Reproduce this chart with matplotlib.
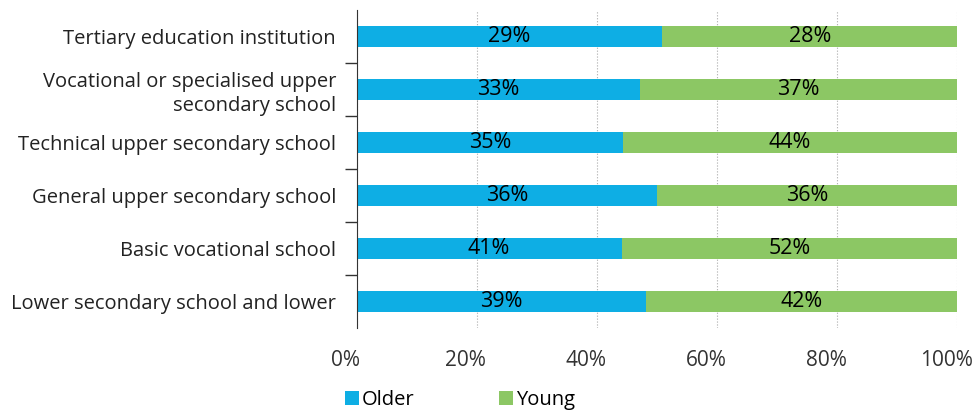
import matplotlib.pyplot as plt
import matplotlib.transforms as mtransforms
import numpy as np

plt.rcParams['font.family'] = ['Open Sans', 'DejaVu Sans']

categories = ["Tertiary education institution",
              "Vocational or specialised upper\nsecondary school",
              "Technical upper secondary school",
              "General upper secondary school",
              "Basic vocational school",
              "Lower secondary school and lower"]
older = [29, 33, 35, 36, 41, 39]
young = [28, 37, 44, 36, 52, 42]
xticks = [0, 20, 40, 60, 80, 100]

older = np.array(older, dtype=float)
young = np.array(young, dtype=float)
total = older + young
older_pct = older / total * 100
young_pct = young / total * 100

blue = "#0eaee4"
green = "#8cc764"

fig = plt.figure(figsize=(9.72, 4.12), dpi=100)
ax = fig.add_axes([0.367, 0.204, 0.618, 0.772])

y = np.arange(len(categories))
ax.barh(y, older_pct, height=0.4, color=blue, label="Older", zorder=2)
ax.barh(y, young_pct, left=older_pct, height=0.4, color=green, label="Young", zorder=2)

for i in range(len(categories)):
    ax.text(older_pct[i] / 2, y[i], f"{int(older[i])}%", ha="center", va="center",
            fontsize=15.5, color="black", zorder=3)
    ax.text(older_pct[i] + young_pct[i] / 2, y[i], f"{int(young[i])}%", ha="center",
            va="center", fontsize=15.5, color="black", zorder=3)

ax.set_ylim(len(categories) - 0.5, -0.5)
ax.set_xlim(0, 100)
ax.set_yticks(y)
ax.set_yticklabels(categories, fontsize=14.5, color="#222222", linespacing=1.25)
ax.set_yticks(np.arange(0.5, len(categories) - 1, 1), minor=True)
ax.tick_params(axis="y", which="major", length=0, pad=15)
ax.tick_params(axis="y", which="minor", length=9, width=1, color="#333333")

ax.set_xticks(xticks)
ax.set_xticklabels([f"{v}%" for v in xticks], fontsize=15, color="#333333")
ax.tick_params(axis="x", length=0, pad=16)
# labels in the original sit a little left of their gridlines
shift = mtransforms.ScaledTranslation(-0.11, 0, fig.dpi_scale_trans)
for lbl in ax.get_xticklabels():
    lbl.set_transform(lbl.get_transform() + shift)
ax.xaxis.grid(True, linestyle=":", color="#aaaaaa", linewidth=0.8, zorder=0)

for s in ["top", "right", "bottom"]:
    ax.spines[s].set_visible(False)
ax.spines["left"].set_color("#333333")
ax.spines["left"].set_zorder(4)

ax.legend(loc="center left", bbox_to_anchor=(0.355, 0.028), bbox_transform=fig.transFigure,
          ncol=2, frameon=False, fontsize=14.5, handlelength=0.7, handleheight=0.7,
          handletextpad=0.15, columnspacing=4.2, borderaxespad=0, borderpad=0)

fig.savefig("out.png", dpi=100)
